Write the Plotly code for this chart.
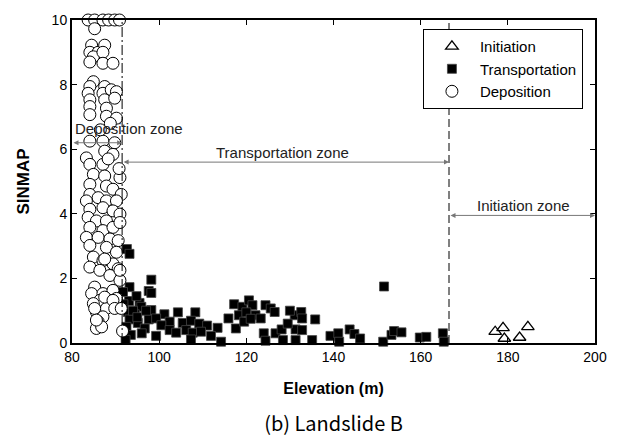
import plotly.graph_objects as go

# ---------------- data ----------------
init_x = [177.1, 178.9, 179.2, 182.7, 184.6]
init_y = [0.35, 0.47, 0.14, 0.17, 0.50]

trans_x = [92.6, 93.2, 98.2, 93.2, 97.6, 98.2, 91.7, 93.1, 95.5, 95.9, 92.8, 94.4, 98.2,
           101.2, 104.3, 108.3, 93.2, 95.1, 97.6, 99.3, 102.4, 105.4, 107.3, 109.2, 111.0,
           96.7, 100.5, 102.4, 103.9, 106.2, 107.7, 109.6, 113.4, 99.3, 107.3, 111.9, 114.2,
           115.9, 117.6, 117.2, 119.1, 120.6, 121.4, 118.3, 119.5, 122.1, 123.3, 124.4, 125.6,
           124.0, 124.4, 126.7, 126.5, 131.1, 132.6, 132.8, 135.8, 131.3, 132.8, 128.1, 128.4,
           131.3, 135.1, 139.3, 141.1, 141.3, 143.7, 144.8, 146.1, 151.4, 151.6, 153.3, 153.9,
           155.6, 159.8, 161.3, 165.1, 165.3,
           91.8, 92.5, 93.5, 94.0, 92.3, 95.0, 96.0, 97.0, 94.8, 120.0, 121.0, 129.5, 130.0]
trans_y = [2.91, 2.76, 1.96, 1.73, 1.61, 1.55, 1.58, 1.30, 1.24, 1.12, 0.96, 0.89, 1.02,
           0.89, 0.95, 0.95, 0.73, 0.62, 0.73, 0.76, 0.66, 0.62, 0.69, 0.60, 0.54,
           0.45, 0.55, 0.40, 0.32, 0.40, 0.32, 0.35, 0.47, 0.22, 0.11, 0.22, 0.04,
           0.76, 0.45, 1.20, 1.12, 1.32, 1.17, 0.86, 0.66, 0.86, 0.76, 1.17, 1.07,
           0.30, 0.07, 0.30, 0.96, 0.86, 0.96, 0.76, 0.73, 0.42, 0.40, 0.42, 0.09,
           0.09, 0.09, 0.22, 0.30, 0.04, 0.42, 0.28, 0.14, 0.04, 1.75, 0.25, 0.37,
           0.33, 0.17, 0.19, 0.30, 0.04,
           1.20, 0.50, 0.25, 1.00, 0.10, 0.80, 0.30, 1.00, 1.45, 0.95, 0.75, 0.60, 1.00]

dep_x = [83.7, 85.2, 87.1, 88.4, 89.8, 90.9,
         85.2, 84.5, 84.1, 86.0, 84.9, 87.5, 87.1, 84.1, 87.1, 89.4,
         84.9, 84.1, 87.5, 83.7, 87.1, 89.0, 90.2, 84.1, 87.5, 89.8,
         84.1, 87.9, 84.1, 87.9, 90.2, 88.8,
         84.1, 87.1, 89.8, 83.3, 87.5, 89.4, 84.1, 87.1, 91.0, 84.9, 87.5,
         84.1, 87.9, 89.4, 91.3, 84.1, 86.0, 83.3, 87.9, 90.2, 84.1, 87.1,
         89.4, 91.0, 83.7, 85.6, 87.9, 84.1, 87.1, 89.4, 91.0, 83.3, 86.0,
         88.7, 90.6, 84.1, 87.9, 90.2, 84.9, 87.1, 89.4, 84.1, 90.6, 86.4,
         88.7, 91.0, 85.2, 84.5, 87.1, 89.4, 86.4, 88.7, 90.2, 84.9, 85.6,
         87.9, 87.1, 86.0, 85.6, 91.6,
         87.5, 91.0, 87.5, 89.4, 85.2, 89.8, 91.3, 86.8, 85.6, 88.3, 86.5, 90.8]
dep_y = [10.0, 10.0, 10.0, 10.0, 10.0, 10.0,
         9.73, 9.22, 9.00, 9.00, 8.86, 9.22, 9.00, 8.70, 8.66, 8.66,
         8.09, 7.94, 7.94, 7.73, 7.73, 7.84, 7.78, 7.53, 7.53, 7.58,
         7.32, 7.27, 7.07, 7.02, 6.96, 6.80,
         6.25, 6.25, 6.20, 5.73, 5.94, 5.84, 5.53, 5.53, 5.12, 5.22, 5.17,
         4.91, 4.86, 4.76, 4.60, 4.60, 4.50, 4.40, 4.40, 4.40, 4.14, 4.19,
         4.09, 3.99, 3.89, 3.78, 3.78, 3.58, 3.48, 3.58, 3.73, 3.27, 3.27,
         3.22, 3.17, 3.02, 2.96, 2.81, 2.66, 2.55, 2.45, 2.35, 2.30, 2.25,
         2.09, 1.94, 1.73, 1.53, 1.53, 1.63, 1.32, 1.32, 1.38, 1.22, 0.96,
         1.07, 0.81, 0.66, 0.45, 0.37,
         2.60, 2.25, 1.42, 1.32, 1.07, 1.07, 1.07, 0.50, 0.71, 5.70, 6.60, 5.40]

zone_bounds = [91.5, 166.5]
x_min, x_max = 80, 200

FONT = "Liberation Sans"

fig = go.Figure()

fig.add_trace(go.Scatter(
    x=init_x, y=init_y, mode="markers", name="Initiation", cliponaxis=False,
    marker=dict(symbol="triangle-up-open", size=11, color="black", line=dict(width=1.3)),
))
fig.add_trace(go.Scatter(
    x=trans_x, y=trans_y, mode="markers", name="Transportation", cliponaxis=False,
    marker=dict(symbol="square", size=9, color="black", line=dict(width=0.8, color="#444")),
))
fig.add_trace(go.Scatter(
    x=dep_x, y=dep_y, mode="markers", name="Deposition", cliponaxis=False,
    marker=dict(symbol="circle", size=12, color="white", line=dict(width=1, color="black")),
))

# zone boundaries
fig.add_shape(type="line", x0=zone_bounds[0], x1=zone_bounds[0], y0=0, y1=10,
              xref="x", yref="y", line=dict(color="black", width=1, dash="10px,3px,2px,3px"))
fig.add_shape(type="line", x0=zone_bounds[1], x1=zone_bounds[1], y0=0, y1=10,
              xref="x", yref="y", line=dict(color="black", width=1, dash="8px,4px"))

# zone arrows
arrow_spec = [
    (x_min, zone_bounds[0], 6.2),
    (zone_bounds[0], zone_bounds[1], 5.6),
    (zone_bounds[1], x_max, 3.95),
]
for x0, x1, yy in arrow_spec:
    fig.add_annotation(x=x1, y=yy, ax=x0, ay=yy, xref="x", yref="y", axref="x", ayref="y",
                       text="", showarrow=True, arrowhead=2, arrowside="end+start",
                       arrowsize=1, arrowwidth=1, arrowcolor="#777")

label_font = dict(family=FONT, size=15, color="#222")
fig.add_annotation(x=x_min, y=6.65, xref="x", yref="y", text="Deposition zone",
                   showarrow=False, xanchor="left", xshift=1, font=label_font)
fig.add_annotation(x=128.4, y=5.9, xref="x", yref="y", text="Transportation zone",
                   showarrow=False, font=label_font)
fig.add_annotation(x=183.7, y=4.25, xref="x", yref="y", text="Initiation zone",
                   showarrow=False, font=label_font)

fig.update_layout(
    width=619, height=436,
    margin=dict(l=72, r=21, t=18, b=93),
    paper_bgcolor="white", plot_bgcolor="white",
    font=dict(family=FONT, size=14, color="black"),
    showlegend=True,
    legend=dict(x=0.671, y=0.972, xanchor="left", yanchor="top",
                bordercolor="black", borderwidth=1, bgcolor="white",
                font=dict(family=FONT, size=15), itemwidth=46,
                tracegroupgap=0),
    title=dict(text="(b) Landslide B", x=0.5, xanchor="center", y=0.027, yanchor="middle",
               xref="paper", font=dict(family="Noto Sans CJK KR, sans-serif", size=20)),
)

fig.update_xaxes(range=[x_min, x_max], dtick=20, tick0=80, showgrid=False, zeroline=False,
                 showline=True, linecolor="black", linewidth=2, mirror="ticks",
                 ticks="inside", ticklen=5, tickwidth=1, tickcolor="black",
                 tickfont=dict(family=FONT, size=14),
                 title=dict(text="<b>Elevation (m)</b>", standoff=19,
                            font=dict(family=FONT, size=16)))
fig.update_yaxes(range=[0, 10], dtick=2, tick0=0, showgrid=False, zeroline=False,
                 showline=True, linecolor="black", linewidth=2, mirror="ticks",
                 ticks="inside", ticklen=5, tickwidth=1, tickcolor="black",
                 tickfont=dict(family=FONT, size=14),
                 title=dict(text="<b>SINMAP</b>", standoff=18,
                            font=dict(family=FONT, size=17)))

fig.write_html("out.html")
